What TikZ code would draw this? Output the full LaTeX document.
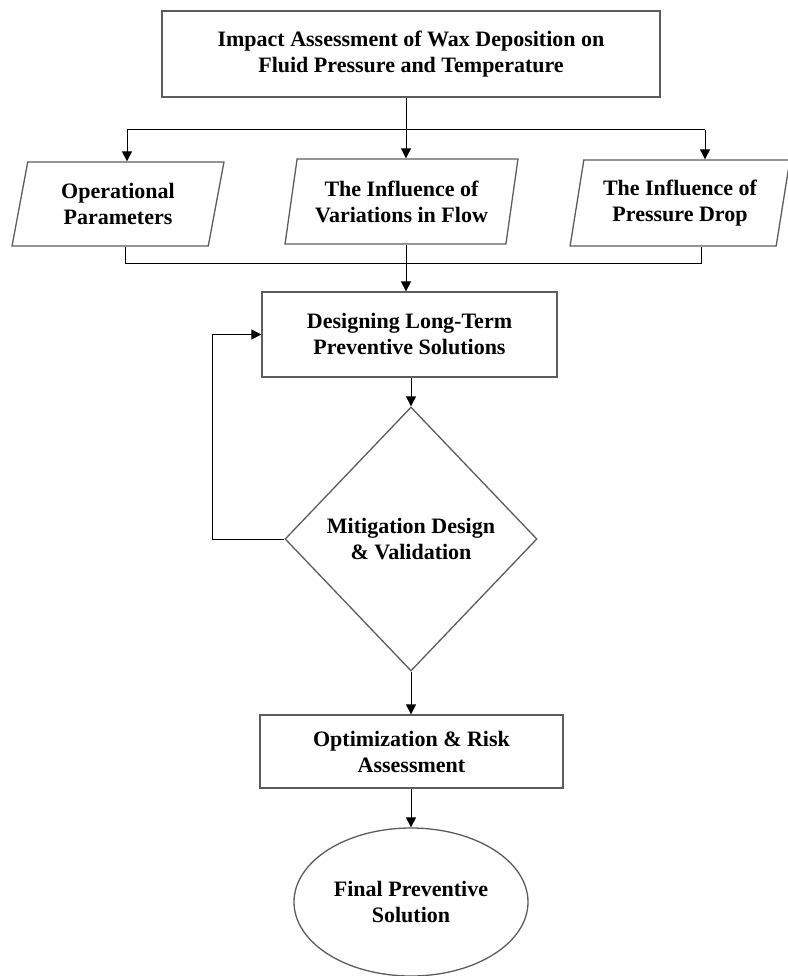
\documentclass[tikz,border=0pt]{standalone}
\usepackage{fontspec}
\setmainfont{Liberation Serif}
\usepackage{tikz}
\usetikzlibrary{shapes.geometric,arrows.meta}
\definecolor{edge}{HTML}{5C5C5C}
\definecolor{ink}{HTML}{000000}
\tikzset{
  shp/.style={draw=edge, line width=1.3pt, align=center, inner sep=0pt,
    font=\bfseries\fontsize{22}{26}\selectfont},
  box/.style={shp, rectangle},
  para/.style={shp, trapezium, trapezium left angle=76.6, trapezium right angle=103.4,
    trapezium stretches=true},
  dec/.style={shp, diamond},
  term/.style={shp, ellipse},
  wire/.style={draw=ink, line width=1pt},
  arr/.style={wire, -{Triangle[length=10pt,width=10pt]}},
}

\begin{document}
\begin{tikzpicture}[x=1pt,y=-1pt]
  \useasboundingbox (0,0) rectangle (787,976);
  \node[box, minimum width=498pt, minimum height=86pt] (impact) at (411,54)
    {Impact Assessment of Wax Deposition on\\Fluid Pressure and Temperature};
  \node[para, minimum width=212pt, minimum height=84pt] (oper) at (118,204)
    {Operational\\Parameters};
  \node[para, minimum width=233pt, minimum height=85pt] (flow) at (401.5,201.5)
    {The Influence of\\Variations in Flow};
  \node[para, minimum width=220pt, minimum height=86pt] (drop) at (680,203)
    {The Influence of\\Pressure Drop};
  \node[box, minimum width=295pt, minimum height=85pt] (design) at (409.5,334.5)
    {Designing Long-Term\\Preventive Solutions};
  \node[dec, minimum width=252pt, minimum height=264pt] (mitig) at (411,539)
    {Mitigation Design\\\& Validation};
  \node[box, minimum width=303pt, minimum height=73pt] (optim) at (411.5,751.5)
    {Optimization \& Risk\\Assessment};
  \node[term, minimum width=234pt, minimum height=148pt] (final) at (411,902)
    {Final Preventive\\Solution};
  \coordinate (split) at (406,130);
  \coordinate (busL) at (127,130);
  \coordinate (busR) at (705,130);
  \coordinate (join) at (406,263);
  \coordinate (joinL) at (125,263);
  \coordinate (joinR) at (701,263);
  \coordinate (loop) at (212,539);
  \draw[wire] (split |- impact.south) -- (split);
  \draw[wire] (busL) -- (busR);
  \draw[arr] (busL) -- (busL |- oper.north);
  \draw[arr] (split) -- (split |- flow.north);
  \draw[arr] (busR) -- (busR |- drop.north);
  \draw[wire] (joinL |- oper.south) -- (joinL) -- (joinR) -- (joinR |- drop.south);
  \draw[wire] (join |- flow.south) -- (join);
  \draw[arr] (join) -- (join |- design.north);
  \draw[arr] (mitig.north |- design.south) -- (mitig.north);
  \draw[arr] (mitig.west) -- (loop) |- (design.west);
  \draw[arr] (mitig.south) -- (optim.north -| mitig.south);
  \draw[arr] (optim.south -| final.north) -- (final.north);
\end{tikzpicture}
\end{document}
